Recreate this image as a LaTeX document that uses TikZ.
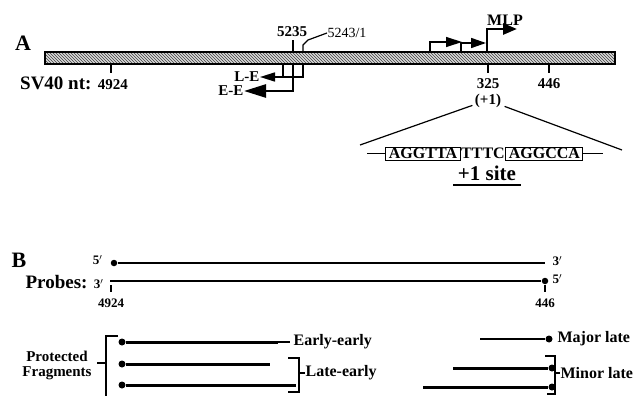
\documentclass[tikz,border=0pt]{standalone}
\usepackage{fontspec}
\setmainfont{Liberation Serif}
\usetikzlibrary{patterns,arrows.meta,positioning}

\begin{document}
\begin{tikzpicture}[x=1pt,y=-1pt,line width=1.2pt,
  txt/.style={font=\bfseries\fontsize{15}{15}\selectfont,inner sep=0pt},
  small/.style={font=\bfseries\fontsize{16}{16}\selectfont,inner sep=0pt},
  tiny/.style={font=\bfseries\fontsize{13}{13}\selectfont,inner sep=0pt},
  seqbox/.style={draw,line width=1pt,font=\bfseries\fontsize{16}{16}\selectfont,
    inner xsep=3pt,inner ysep=0pt,minimum height=13pt},
  frag/.style={line width=3pt},
  endpt/.style={circle,fill,inner sep=0pt,minimum size=7pt},
  tip/.style={-{Triangle[#1]}}]
  \useasboundingbox (0,0) rectangle (638,396);
  % panel A: genome bar
  \coordinate (barL) at (45,52);
  \coordinate (barR) at (615,64);
  \fill[gray!30] (barL) rectangle (barR);
  \draw[pattern=north west lines,pattern color=black!75] (barL) rectangle (barR);
  \node[font=\bfseries\fontsize{22}{22}\selectfont,inner sep=0pt] (A) at (23,43) {A};
  \node[inner sep=0pt] (nt) at (74,83)
    {\bfseries\fontsize{19}{19}\selectfont SV40 nt: \fontsize{15}{15}\selectfont 4924};
  \coordinate (t4924) at (111,64);
  \coordinate (t325) at (488,64);
  \coordinate (t446) at (549,64);
  \foreach \t in {t4924,t325,t446}
    \draw (\t) -- ++(0,9);
  \node[txt] (n325) at (488,84) {325};
  \node[txt] (plus1) at (488,101) {(+1)};
  \node[txt] (n446) at (549,84) {446};
  % early start sites
  \coordinate (s5235) at (293,52);
  \coordinate (s5243) at (303,52);
  \node[txt] (n5235) at (292,32) {5235};
  \node[font=\fontsize{14}{14}\selectfont,inner sep=0pt,anchor=west] (n5243) at (327,33) {5243/1};
  \draw (s5235) -- ++(0,-12);
  \draw (s5243) -- ++(0,-7) -- ++(5,-5) -- (n5243.west);
  \node[font=\bfseries\fontsize{15}{15}\selectfont,inner sep=0pt,anchor=east] (le) at (260,77) {L-E};
  \node[font=\bfseries\fontsize{15}{15}\selectfont,inner sep=0pt,anchor=east] (ee) at (244,91) {E-E};
  \draw[line width=1.6pt] (283,64) |- (303,77) -- (303,64);
  \draw[line width=1.6pt,tip={length=15pt,width=9pt}] (303,77) -- (le.east);
  \draw[line width=2.6pt,tip={length=22pt,width=13pt}] (293,64) |- (ee.east);
  % late promoters
  \coordinate (p1) at (430,52);
  \coordinate (p2) at (461,52);
  \coordinate (p3) at (487,52);
  \draw[line width=1.3pt,tip={length=16pt,width=10pt}] (p1) |- (462,42);
  \draw[line width=1.6pt,tip={length=15pt,width=10pt}] (p2) |- (486,43);
  \node[font=\bfseries\fontsize{16}{16}\selectfont,inner sep=0pt] (mlp) at (505,20) {MLP};
  \draw[line width=2.6pt,tip={length=14pt,width=11pt}] (p3) |- (517,29);
  % +1 site close-up
  \draw (plus1.south west) ++(-2,-3) coordinate (zl) -- (360,145) coordinate (zl2);
  \draw (plus1.south east) ++(3,-2) coordinate (zr) -- (622,150) coordinate (zr2);
  \node[seqbox] (b1) at (423,153.5) {AGGTTA};
  \node[font=\bfseries\fontsize{16}{16}\selectfont,inner sep=0pt,right=0pt of b1] (mid) {TTTC};
  \node[seqbox,right=0pt of mid] (b2) {AGGCCA};
  \draw (b1.west) -- ++(-18,0);
  \draw (b2.east) -- ++(20,0);
  \node[font=\bfseries\fontsize{21}{21}\selectfont,inner sep=0pt] (site) at (487,173) {+1 site};
  \draw ([xshift=-4pt,yshift=-4pt]site.south west) -- ([xshift=4pt,yshift=-4pt]site.south east);
  % panel B: probes
  \node[font=\bfseries\fontsize{22}{22}\selectfont,inner sep=0pt] (B) at (19,260) {B};
  \node[endpt,minimum size=6.5pt] (d5) at (114,263) {};
  \node[endpt,minimum size=6.5pt] (d3) at (545,281) {};
  \node[tiny,anchor=east] (p5) at (103,260) {5$'$};
  \node[tiny,anchor=west] (q3) at (552,261) {3$'$};
  \node[font=\bfseries\fontsize{19}{19}\selectfont,inner sep=0pt,anchor=east] (probes) at (104,282)
    {Probes: \fontsize{13}{13}\selectfont 3$'$};
  \node[tiny,anchor=west] (q5) at (552,279) {5$'$};
  \draw[line width=2.4pt] (d5) -- (545,263);
  \draw[line width=2.8pt] (110,281) -- (d3);
  \draw (111,285) -- ++(0,7);
  \draw (545,285) -- ++(0,7);
  \node[tiny] (m4924) at (111,303) {4924};
  \node[tiny] (m446) at (545,303) {446};
  % protected fragments
  \node[font=\bfseries\fontsize{15}{15}\selectfont,inner sep=0pt,align=center] (prot) at (57,365)
    {Protected\\Fragments};
  \draw (118,336) -| (106,396);
  \draw (97,363) -- (106,363);
  \node[endpt] (f1) at (122,342) {};
  \node[endpt] (f2) at (122,364) {};
  \node[endpt] (f3) at (122,385) {};
  \draw[frag] (f1) -- (278,342) coordinate (f1e);
  \draw (f1e) -- (290,342);
  \draw[frag] (f2) -- (270,364);
  \draw[frag] (f3) -- (296,385);
  \node[small,anchor=west] (ee2) at (293,342) {Early-early};
  \draw (288,358) -| (299,392) -- (288,392);
  \draw (299,373) -- (305,373);
  \node[small,anchor=west] (le2) at (305,373) {Late-early};
  \node[endpt] (g1) at (549,339) {};
  \node[endpt] (g2) at (552,368) {};
  \node[endpt] (g3) at (552,387) {};
  \draw (480,339) -- (520,339) coordinate (g1s);
  \draw[line width=2.2pt] (g1s) -- (g1);
  \draw[frag] (453,368) -- (g2);
  \draw[frag] (423,387) -- (g3);
  \node[small,anchor=west] (maj) at (557,339) {Major late};
  \draw (545,356) -| (555,394) -- (547,394);
  \draw (555,373) -- (560,373);
  \node[small,anchor=west] (minr) at (560,373) {Minor late};
\end{tikzpicture}
\end{document}
